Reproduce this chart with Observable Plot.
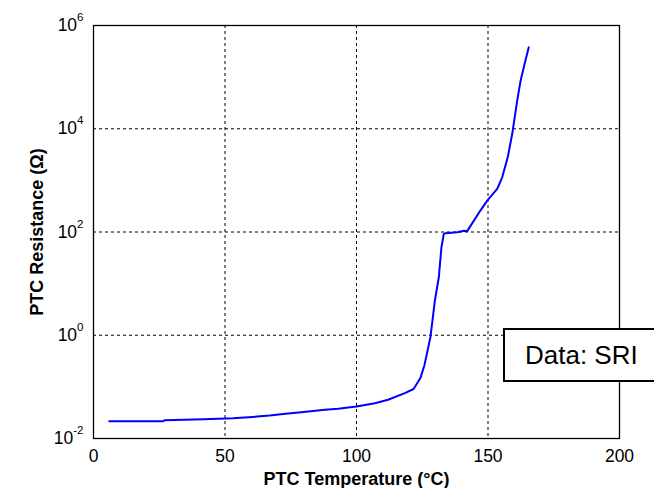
<!DOCTYPE html>
<html>
<head>
<meta charset="utf-8">
<script src="https://cdn.jsdelivr.net/npm/d3@7"></script>
<script src="https://cdn.jsdelivr.net/npm/@observablehq/plot@0.6"></script>
<style>
  html, body { margin: 0; padding: 0; background: #fff; overflow: hidden; }
  #wrap { position: relative; width: 654px; height: 488px; }
  #note {
    position: absolute; left: 503px; top: 328px; width: 180px; height: 50px;
    border: 2px solid #000; background: #fff; box-sizing: content-box;
    font-family: "Liberation Sans", Arial, sans-serif; font-size: 26px; color: #000;
    line-height: 50px; padding-left: 20px;
  }
</style>
</head>
<body>
<div id="wrap"><div id="chart"></div><div id="note"></div></div>
<script>
// PTC temperature (°C) and resistance (Ω)
const temperature = [6, 26.5, 27, 42, 53, 59, 67, 73, 79, 88,
  93, 100, 107, 112, 118.6, 121.7, 124.3, 125.8, 128.1, 129.8,
  131.3, 132.3, 133.2, 133.8, 138.3, 140.8, 142.1, 147.1, 149.7, 153.5,
  155.4, 157.5, 159.2, 161.1, 162.4, 163.9, 165.5];
const resistance = [0.0216, 0.0216, 0.0226, 0.0237, 0.0247, 0.0258, 0.0279, 0.0301, 0.0324, 0.036,
  0.0376, 0.0417, 0.0482, 0.0562, 0.0767, 0.091, 0.148, 0.26, 0.91, 4.7,
  13.3, 50.6, 91.8, 95, 98.6, 106, 104, 260, 405, 683,
  1147, 2795, 7900, 35000, 85300, 180000, 377000];

const xTicks = [0, 50, 100, 150, 200];
const yExponents = [-2, 0, 2, 4, 6];
const xGrid = [50, 100, 150];
const yGridExponents = [0, 2, 4];
const xLabel = "PTC Temperature (°C)";
const yLabel = "PTC Resistance (Ω)";
const noteText = "Data: SRI";

const data = temperature.map((t, i) => ({t, r: resistance[i]}));
const yTicks = yExponents.map(e => Math.pow(10, e));
const yGrid = yGridExponents.map(e => Math.pow(10, e));

const chart = Plot.plot({
  width: 654,
  height: 488,
  marginLeft: 93,
  marginRight: 35,
  marginTop: 25,
  marginBottom: 50,
  style: {fontFamily: "'Liberation Sans', Arial, sans-serif", fontSize: "17.5px", color: "#000", background: "#fff", overflow: "visible"},
  x: {domain: [0, 200]},
  y: {type: "log", domain: [1e-2, 1e6]},
  marks: [
    Plot.gridX(xGrid, {stroke: "#000", strokeOpacity: 1, strokeWidth: 1, strokeDasharray: "3,3"}),
    Plot.gridY(yGrid, {stroke: "#000", strokeOpacity: 1, strokeWidth: 1, strokeDasharray: "3,3"}),
    Plot.frame({stroke: "#000", strokeWidth: 1.3}),
    Plot.axisX(xTicks, {tickSize: 0, tickPadding: 11, label: xLabel, labelAnchor: "center", labelArrow: "none", labelOffset: 46}),
    Plot.axisY(yTicks, {tickSize: 0, tickPadding: 10, tickFormat: d => "10|" + Math.round(Math.log10(d)),
      label: yLabel, labelAnchor: "center", labelArrow: "none", labelOffset: 63}),
    Plot.line(data, {x: "t", y: "r", stroke: "#0000ff", strokeWidth: 2})
  ]
});
document.getElementById("chart").appendChild(chart);

const svg = d3.select(chart);
svg.selectAll('g[aria-label="y-axis tick label"] text').each(function () {
  const parts = this.textContent.split("|");
  const t = d3.select(this);
  t.text(parts[0]);
  t.append("tspan").attr("dy", "-10").attr("font-size", "11.5px").text(parts[1]);
});
svg.selectAll('g[aria-label="x-axis label"] text, g[aria-label="y-axis label"] text')
  .attr("font-weight", "bold").attr("font-size", "18px");

document.getElementById("note").textContent = noteText;
</script>
</body>
</html>
